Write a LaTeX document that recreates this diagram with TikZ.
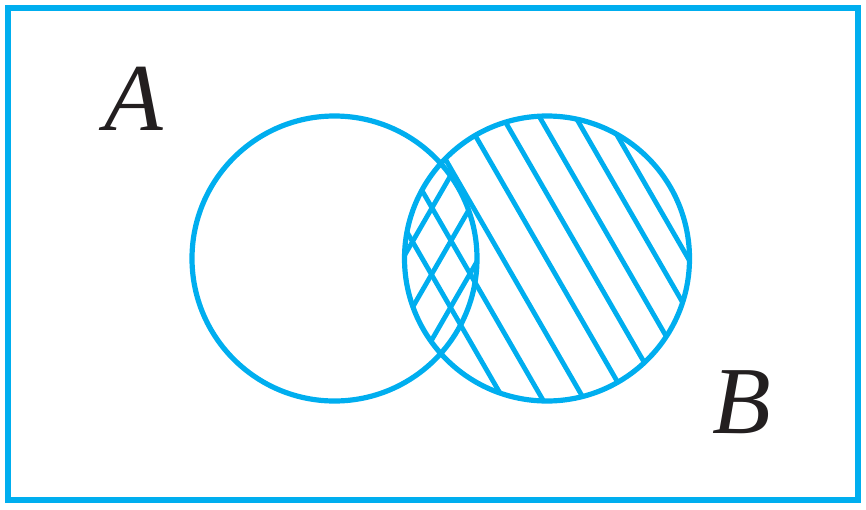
\documentclass[tikz,border=0pt]{standalone}
\usepackage{fontspec}
\setmainfont{Liberation Serif}
\definecolor{venncyan}{RGB}{0,174,239}
\definecolor{labelink}{RGB}{35,31,32}
\begin{document}
\begin{tikzpicture}[x=0.5pt,y=-0.5pt,
  frame/.style={draw=venncyan,line width=3pt},
  setcircle/.style={draw=venncyan,line width=2.6pt},
  hatchline/.style={draw=venncyan,line width=2.4pt},
  setlabel/.style={inner sep=0pt,text=labelink,font=\fontsize{48}{48}\selectfont\itshape}]
\useasboundingbox (0,0) rectangle (866,509);
\coordinate (cA) at (334.5,258.5);
\coordinate (cB) at (547,258.5);
% hatching of B (down-right lines)
\begin{scope}
  \clip (cB) circle[radius=142.5];
  \foreach \c in {273,312,353.5,397,435,472,508,539}
    \draw[hatchline] (\c+57.74,100) -- (\c+242.49,420);
\end{scope}
% cross hatching of the intersection (up-right lines)
\begin{scope}
  \clip (cA) circle[radius=142.5];
  \clip (cB) circle[radius=142.5];
  \foreach \d in {552,590,628}
    \draw[hatchline] (\d-57.74,100) -- (\d-242.49,420);
\end{scope}
\draw[setcircle] (cA) circle[radius=142.5];
\draw[setcircle] (cB) circle[radius=142.5];
\node[frame,minimum width=425pt,minimum height=246pt,inner sep=0pt] (universe) at (433,254) {};
\node[setlabel] (labA) at (134,99) {A};
\node[setlabel] (labB) at (742,402) {B};
\end{tikzpicture}
\end{document}
